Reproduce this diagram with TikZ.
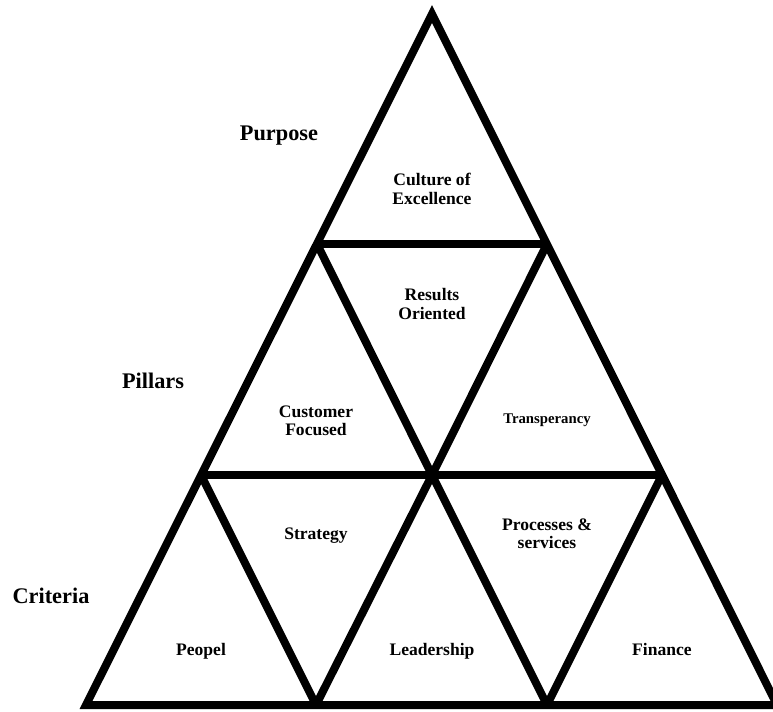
\documentclass[tikz,border=0pt]{standalone}
\usepackage{fontspec}
\setmainfont{Liberation Serif}
\usetikzlibrary{positioning,calc}
\tikzset{
  edge/.style={
    line width=4.55pt,
    draw=black,
    line join=miter,
    line cap=butt
  },
  inner/.style={
    edge,
    line join=bevel
  },
  cell/.style={
    align=center,
    inner sep=0pt,
    font=\bfseries\fontsize{10}{10.5}\selectfont
  },
  smallcell/.style={
    cell,
    font=\bfseries\fontsize{8.4}{9}\selectfont
  },
  level/.style={
    inner sep=0pt,
    anchor=base,
    font=\bfseries\fontsize{12.7}{14}\selectfont
  }
}

\begin{document}
\begin{tikzpicture}[x=0.02cm,y=-0.02cm]
    \useasboundingbox (0,0) rectangle (773,711);
    \clip (0,0) rectangle (773,711);

    \coordinate (top) at (432,14);
    \coordinate (a1) at (317,244);
    \coordinate (a2) at (547,244);
    \coordinate (b1) at (201,475);
    \coordinate (b2) at (432,475);
    \coordinate (b3) at (662,475);
    \coordinate (c1) at (86,705);
    \coordinate (c2) at (316,705);
    \coordinate (c3) at (547,705);
    \coordinate (c4) at (777,705);

    \draw[edge] (c1) -- (top) -- (c4) -- cycle;
    \draw[edge] (a1) -- (a2);
    \draw[edge] (b1) -- (b3);
    \draw[inner] (a1) -- (b2) -- (a2);
    \draw[inner] (b1) -- (c2) -- (b2) -- (c3) -- (b3);

    \node[level] (purpose) at (279,140) {Purpose};
    \node[level] (pillars) at (153,388) {Pillars};
    \node[level] (criteria) at (51,603) {Criteria};

    \node[cell] (culture) at (432,189) {Culture of\\Excellence};
    \node[cell] (results) at (432,304) {Results\\Oriented};
    \node[cell] (customer) at (316,421) {Customer\\Focused};
    \node[smallcell,anchor=base] (transp) at (547,423) {Transperancy};
    \node[cell,anchor=base] (strategy) at (316,539) {Strategy};
    \node[cell] (process) at (547,534) {Processes \&\\services};
    \node[cell,anchor=base] (peopel) at (201,655) {Peopel};
    \node[cell,anchor=base] (lead) at (432,655) {Leadership};
    \node[cell,anchor=base] (finance) at (662,655) {Finance};
  \end{tikzpicture}
\end{document}
